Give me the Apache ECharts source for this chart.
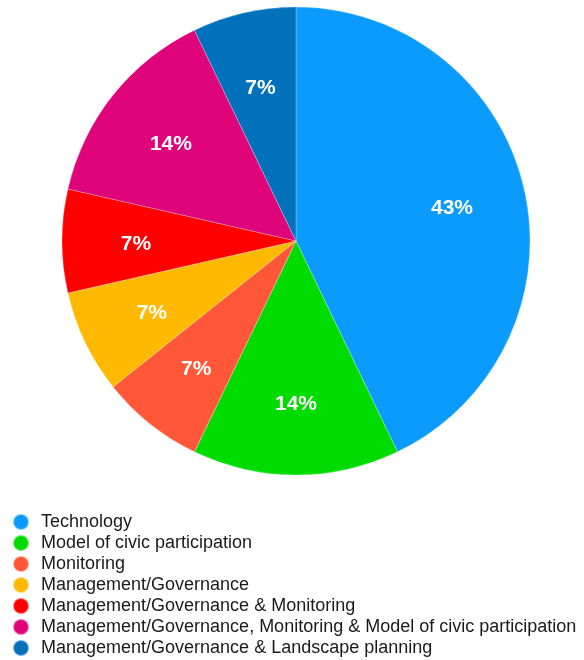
<!DOCTYPE html>
<html>
<head>
<meta charset="utf-8">
<script src="https://cdn.jsdelivr.net/npm/echarts@6/dist/echarts.min.js"></script>
<style>
  html, body { margin: 0; padding: 0; background: #fff; }
  #chart { width: 584px; height: 660px; }
</style>
</head>
<body>
<div id="chart"></div>
<script>
// Share of studies by topic (counts out of 14)
const categories = [
  'Technology',
  'Model of civic participation',
  'Monitoring',
  'Management/Governance',
  'Management/Governance & Monitoring',
  'Management/Governance, Monitoring & Model of civic participation',
  'Management/Governance & Landscape planning'
];
const counts = [6, 2, 1, 1, 1, 2, 1];
const colors = ['#0A9BFC', '#00DC00', '#FF5737', '#FEB900', '#FE0000', '#E0047A', '#0171BC'];

const data = categories.map((name, i) => ({ name, value: counts[i] }));
const FONT = '"Liberation Sans", Arial, Helvetica, sans-serif';

const chart = echarts.init(document.getElementById('chart'), null, { renderer: 'canvas' });
chart.setOption({
  animation: false,
  color: colors,
  legend: {
    orient: 'vertical',
    left: 12,
    top: 513,
    padding: 0,
    height: 160,
    icon: 'circle',
    itemWidth: 16,
    itemHeight: 16,
    itemGap: 3,
    selectedMode: false,
    textStyle: { fontFamily: FONT, fontSize: 18, lineHeight: 16, color: '#1a1a1a', padding: [0, 0, 0, 7] },
    data: categories
  },
  series: [
    {
      type: 'pie',
      center: [296, 241],
      radius: 234,
      startAngle: 90,
      clockwise: true,
      label: { show: false },
      labelLine: { show: false },
      itemStyle: { borderColor: 'rgba(255,255,255,0.5)', borderWidth: 0.5 },
      emphasis: { disabled: true },
      data
    },
    {
      // transparent ring carrying the percentage labels
      type: 'pie',
      center: [296, 241],
      radius: [80, 234],
      startAngle: 90,
      clockwise: true,
      silent: true,
      legendHoverLink: false,
      itemStyle: { color: 'rgba(0,0,0,0)', borderWidth: 0 },
      label: {
        show: true,
        position: 'inside',
        offset: [0, 3],
        formatter: p => Math.round(p.percent) + '%',
        color: '#fff',
        fontFamily: FONT,
        fontSize: 21,
        fontWeight: 'bold'
      },
      labelLine: { show: false },
      emphasis: { disabled: true },
      data: data.map(d => ({ name: d.name + ' ', value: d.value }))
    }
  ]
});
</script>
</body>
</html>
